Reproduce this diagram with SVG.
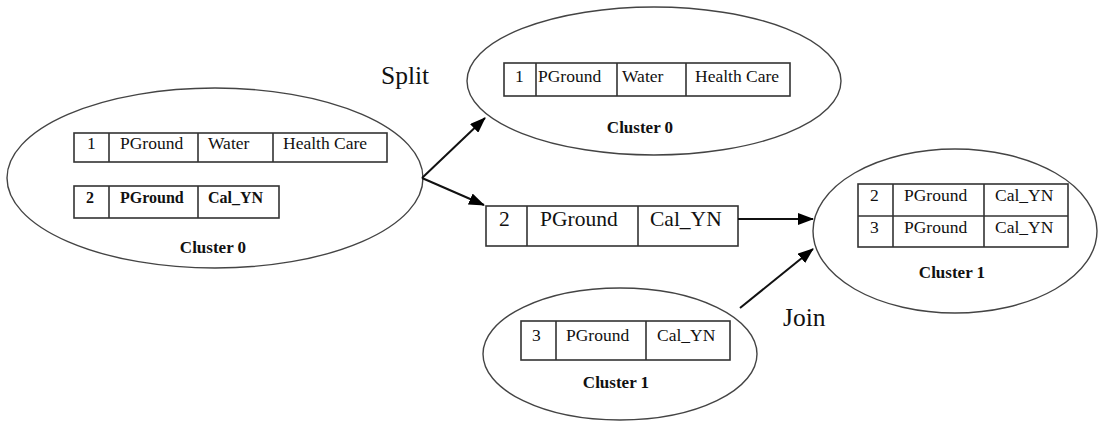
<svg xmlns="http://www.w3.org/2000/svg" width="1100" height="423" viewBox="0 0 1100 423">
<defs>
<style>
.ell{fill:none;stroke:#444;stroke-width:1.4}
.tbl{fill:#fff;stroke:#333;stroke-width:1.6}
.t{font-family:"Liberation Serif","Times New Roman",serif;fill:#111;font-size:17.5px}
.tb{font-family:"Liberation Serif","Times New Roman",serif;fill:#111;font-size:16px;font-weight:bold}
.cl{font-family:"Liberation Serif","Times New Roman",serif;fill:#111;font-size:17px;font-weight:bold;text-anchor:middle}
.lbl{font-family:"Liberation Serif","Times New Roman",serif;fill:#111;font-size:25.5px}
.big{font-family:"Liberation Serif","Times New Roman",serif;fill:#111;font-size:21.5px}
.con{fill:none;stroke:#111;stroke-width:2}
</style>
<marker id="ah" markerUnits="userSpaceOnUse" markerWidth="16" markerHeight="12" refX="15" refY="6" orient="auto">
<path d="M0,0 L16,6 L0,12 Z" fill="#000"/>
</marker>
</defs>

<g id="cluster0-left">
<ellipse class="ell" cx="215" cy="178" rx="208" ry="90"/>
<rect class="tbl" x="74" y="133" width="313" height="29"/>
<line class="tbl" x1="109" y1="133" x2="109" y2="162"/>
<line class="tbl" x1="198" y1="133" x2="198" y2="162"/>
<line class="tbl" x1="273" y1="133" x2="273" y2="162"/>
<text class="t" x="87" y="149">1</text>
<text class="t" x="120" y="149">PGround</text>
<text class="t" x="208" y="149">Water</text>
<text class="t" x="283" y="149">Health Care</text>
<rect class="tbl" x="74" y="186" width="205" height="32"/>
<line class="tbl" x1="109" y1="186" x2="109" y2="218"/>
<line class="tbl" x1="198" y1="186" x2="198" y2="218"/>
<text class="tb" x="86" y="203">2</text>
<text class="tb" x="120" y="203">PGround</text>
<text class="tb" x="208" y="203">Cal_YN</text>
<text class="cl" x="213" y="253">Cluster 0</text>
</g>

<g id="cluster0-top">
<ellipse class="ell" cx="654" cy="81" rx="187" ry="74"/>
<rect class="tbl" x="504" y="63" width="286" height="33"/>
<line class="tbl" x1="536" y1="63" x2="536" y2="96"/>
<line class="tbl" x1="617" y1="63" x2="617" y2="96"/>
<line class="tbl" x1="686" y1="63" x2="686" y2="96"/>
<text class="t" x="515" y="82">1</text>
<text class="t" x="538" y="82">PGround</text>
<text class="t" x="622" y="82">Water</text>
<text class="t" x="695" y="82">Health Care</text>
<text class="cl" x="640" y="133">Cluster 0</text>
</g>

<g id="record-2">
<rect class="tbl" x="486" y="206" width="252" height="40"/>
<line class="tbl" x1="527" y1="206" x2="527" y2="246"/>
<line class="tbl" x1="638" y1="206" x2="638" y2="246"/>
<text class="big" x="499" y="226">2</text>
<text class="big" x="540" y="226">PGround</text>
<text class="big" x="650" y="226">Cal_YN</text>
</g>

<g id="cluster1-right">
<ellipse class="ell" cx="955" cy="231" rx="142" ry="82"/>
<rect class="tbl" x="858" y="184" width="210" height="63"/>
<line class="tbl" x1="858" y1="216" x2="1068" y2="216"/>
<line class="tbl" x1="893" y1="184" x2="893" y2="247"/>
<line class="tbl" x1="984" y1="184" x2="984" y2="247"/>
<text class="t" x="870" y="201">2</text>
<text class="t" x="904" y="201">PGround</text>
<text class="t" x="995" y="201">Cal_YN</text>
<text class="t" x="870" y="233">3</text>
<text class="t" x="904" y="233">PGround</text>
<text class="t" x="995" y="233">Cal_YN</text>
<text class="cl" x="952" y="278">Cluster 1</text>
</g>

<g id="cluster1-bottom">
<ellipse class="ell" cx="620" cy="354" rx="137" ry="66"/>
<rect class="tbl" x="521" y="321" width="209" height="39"/>
<line class="tbl" x1="556" y1="321" x2="556" y2="360"/>
<line class="tbl" x1="646" y1="321" x2="646" y2="360"/>
<text class="t" x="532" y="341">3</text>
<text class="t" x="566" y="341">PGround</text>
<text class="t" x="657" y="341">Cal_YN</text>
<text class="cl" x="616" y="388">Cluster 1</text>
</g>

<g id="connectors">
<line class="con" x1="422" y1="178" x2="485" y2="118" marker-end="url(#ah)"/>
<line class="con" x1="422" y1="178" x2="484" y2="205" marker-end="url(#ah)"/>
<line class="con" x1="738" y1="219" x2="813" y2="219" marker-end="url(#ah)"/>
<line class="con" x1="740" y1="308" x2="813" y2="249" marker-end="url(#ah)"/>
</g>

<g id="labels">
<text class="lbl" x="381" y="84">Split</text>
<text class="lbl" x="783" y="326">Join</text>
</g>
</svg>
